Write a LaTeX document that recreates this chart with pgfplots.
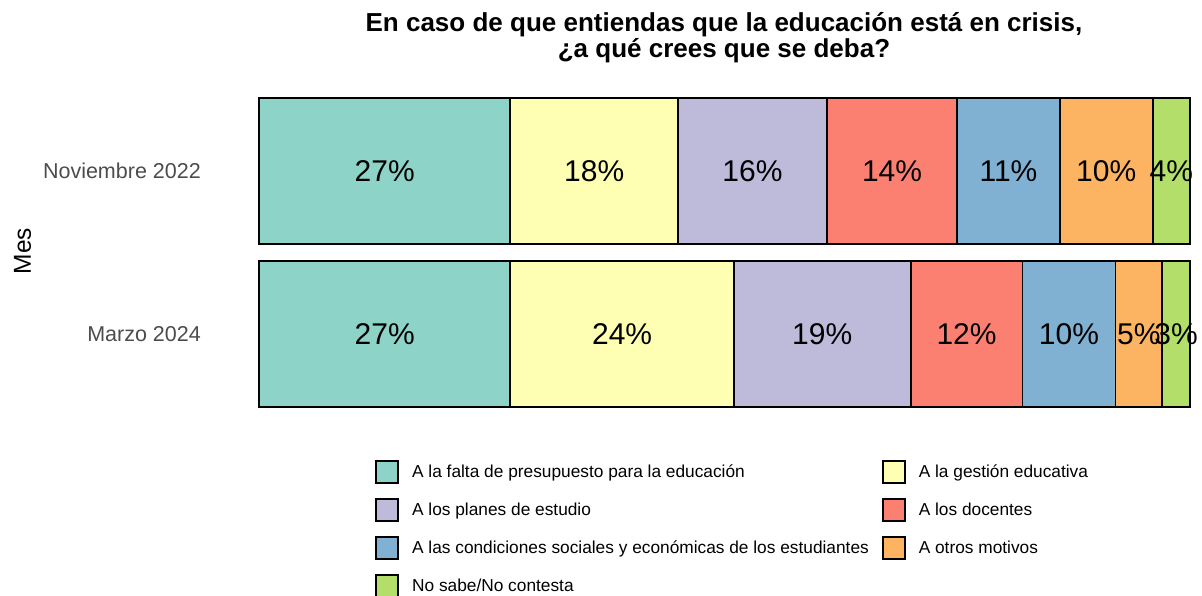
\documentclass[border=0pt]{standalone}
\usepackage{pgfplots}
\pgfplotsset{compat=1.18}
\usepackage{fontspec}
\setmainfont{Liberation Sans}
\definecolor{c1}{HTML}{8DD3C7}
\definecolor{c2}{HTML}{FFFFB3}
\definecolor{c3}{HTML}{BEBADA}
\definecolor{c4}{HTML}{FB8072}
\definecolor{c5}{HTML}{80B1D3}
\definecolor{c6}{HTML}{FDB462}
\definecolor{c7}{HTML}{B3DE69}
\begin{document}
\begin{tikzpicture}
\useasboundingbox (0,0) rectangle (1202bp,-596bp);
\begin{axis}[
  name=ax,
  at={(259bp,-431.8bp)}, anchor=south west,
  scale only axis, width=931bp, height=358.6bp,
  xbar stacked, bar width=0.9,
  xmin=0, xmax=100, ymin=-0.6, ymax=1.6,
  clip=false,
  axis line style={draw=none},
  xtick=\empty, ytick={0,1}, yticklabels={Marzo 2024,Noviembre 2022},
  major tick length=0pt,
  yticklabel style={font=\fontsize{21.5bp}{24bp}\selectfont, text=black!70, anchor=east, inner sep=0pt, xshift=-58bp},
  /pgf/number format/assume math mode=true,
  point meta=rawx,
  nodes near coords={\pgfmathprintnumber{\pgfplotspointmeta}\%},
  every node near coord/.append style={font=\fontsize{30bp}{32bp}\selectfont, text=black, anchor=center, draw=none, fill=none, inner sep=0pt},
  legend columns=2,
  legend style={at={(0.1246,0)}, anchor=north west, yshift=-21bp, draw=none, fill=none, inner sep=0pt, column sep=0pt, row sep=0pt, nodes={inner sep=0pt, anchor=west, font=\fontsize{17.3bp}{20bp}\selectfont}, /tikz/every even column/.append style={column sep=13bp}},
  legend image code/.code={\path[draw=none, fill=none] (0bp,-19bp) rectangle (36bp,19bp); \draw[#1, draw=black, line width=1.8bp] (0bp,-11bp) rectangle (22bp,11bp);},
  every axis plot/.append style={draw=black, line width=1.8bp},
]
\addplot[fill=c1] coordinates {(27,1) (27,0)};
\addlegendentry{A la falta de presupuesto para la educación}
\addplot[fill=c2] coordinates {(18,1) (24,0)};
\addlegendentry{A la gestión educativa}
\addplot[fill=c3] coordinates {(16,1) (19,0)};
\addlegendentry{A los planes de estudio}
\addplot[fill=c4] coordinates {(14,1) (12,0)};
\addlegendentry{A los docentes}
\addplot[fill=c5] coordinates {(11,1) (10,0)};
\addlegendentry{A las condiciones sociales y económicas de los estudiantes}
\addplot[fill=c6] coordinates {(10,1) (5,0)};
\addlegendentry{A otros motivos}
\addplot[fill=c7] coordinates {(4,1) (3,0)};
\addlegendentry{No sabe/No contesta}
\end{axis}
\node[anchor=base, font=\fontsize{26bp}{27bp}\selectfont\bfseries] at (724bp,-31bp) {En caso de que entiendas que la educación está en crisis,};
\node[anchor=base, font=\fontsize{26bp}{27bp}\selectfont\bfseries] at (724bp,-57bp) {¿a qué crees que se deba?};
\node[rotate=90, font=\fontsize{24.5bp}{26bp}\selectfont] at (22.5bp,-251bp) {Mes};
\end{tikzpicture}
\end{document}
